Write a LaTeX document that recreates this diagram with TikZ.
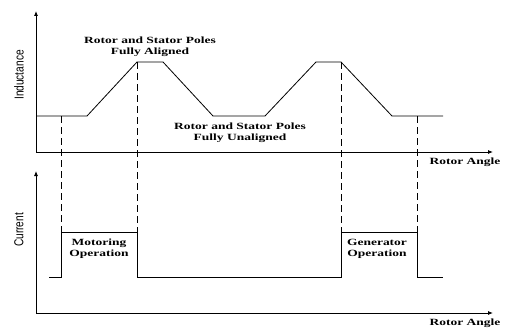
\documentclass[tikz,border=0pt]{standalone}
\usepackage{fontspec}
\setmainfont{Liberation Serif}
\newfontfamily\notefont[FakeStretch=1.42]{Liberation Serif}
\newfontfamily\axisfont[FakeStretch=0.78]{Liberation Sans}
\usepackage{tikz}
\usetikzlibrary{positioning, arrows.meta}

\begin{document}
\begin{tikzpicture}[x=1pt,y=-1pt,line width=0.8pt,
        axis/.style={-{Latex[length=5pt,width=4pt]}},
        guide/.style={dash pattern=on 7pt off 4pt},
        note/.style={font=\notefont\bfseries\fontsize{9.5}{11}\selectfont,align=center,inner sep=0pt},
        ylab/.style={font=\axisfont\fontsize{13}{15}\selectfont,rotate=90,inner sep=0pt}]
        \useasboundingbox (0,0) rectangle (506,329);

        % axes
        \coordinate (L0) at (36,152);
        \coordinate (Ltop) at (36,11);
        \coordinate (Lend) at (493,152);
        \coordinate (I0) at (36,313);
        \coordinate (Itop) at (36,171);
        \coordinate (Iend) at (493,313);
        \draw[axis] (L0) -- (Ltop);
        \draw[axis] (L0) -- (Lend);
        \draw[axis] (I0) -- (Itop);
        \draw[axis] (I0) -- (Iend);

        % inductance profile
        \coordinate (l1) at (36,116);
        \coordinate (l2) at (87,116);
        \coordinate (l3) at (137,62);
        \coordinate (l4) at (163,62);
        \coordinate (l5) at (213,116);
        \coordinate (l6) at (265,116);
        \coordinate (l7) at (316,62);
        \coordinate (l8) at (341,62);
        \coordinate (l9) at (392,116);
        \coordinate (l10) at (443,116);
        \draw (l1) -- (l2) -- (l3) -- (l4) -- (l5) -- (l6) -- (l7) -- (l8) -- (l9) -- (l10);

        % current pulses
        \coordinate (c1) at (49,277);
        \coordinate (c2) at (61,277);
        \coordinate (c3) at (61,232);
        \coordinate (c4) at (137,232);
        \coordinate (c5) at (137,277);
        \coordinate (c6) at (341,277);
        \coordinate (c7) at (341,232);
        \coordinate (c8) at (417,232);
        \coordinate (c9) at (417,277);
        \coordinate (c10) at (443,277);
        \draw (c1) -- (c2) -- (c3) -- (c4) -- (c5) -- (c6) -- (c7) -- (c8) -- (c9) -- (c10);

        % guides
        \coordinate (g1) at (61,116);
        \coordinate (g2) at (417,116);
        \path[guide] (g1) edge (c3)
                     (l3) edge (c4)
                     (l8) edge (c7)
                     (g2) edge (c8);

        % labels
        \node[ylab] (ind) at (19,75) {Inductance};
        \node[ylab] (cur) at (19,230) {Current};
        \node[note] (aligned) at (150,47) {Rotor and Stator Poles\\Fully Aligned};
        \node[note] (unaligned) at (240,133) {Rotor and Stator Poles\\Fully Unaligned};
        \node[note] (angle1) at (465,162) {Rotor Angle};
        \node[note] (angle2) at (465,323) {Rotor Angle};
        \node[note] (motor) at (99,249) {Motoring\\Operation};
        \node[note] (gen) at (377,249) {Generator\\Operation};
\end{tikzpicture}
\end{document}
